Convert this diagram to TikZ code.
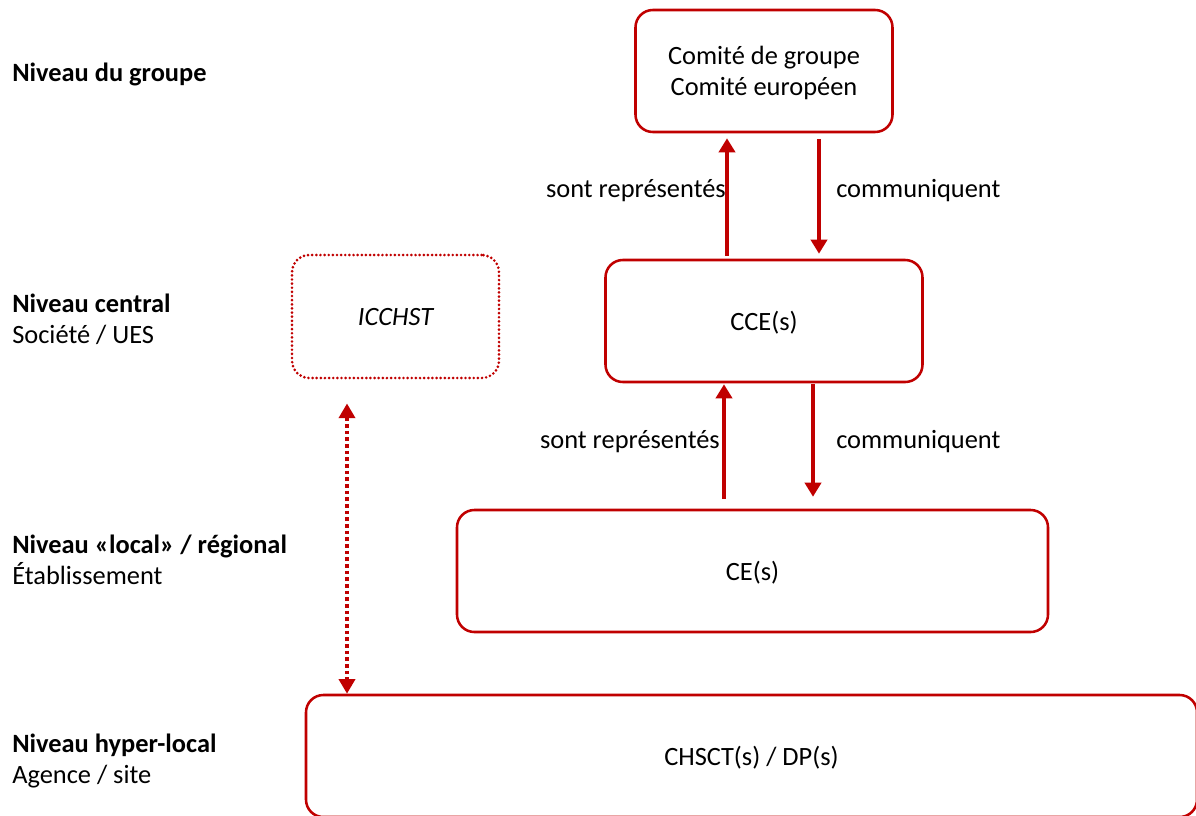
\documentclass[tikz,border=0pt]{standalone}
\usepackage{fontspec}
\setmainfont{Carlito}
\usetikzlibrary{arrows.meta,calc}

\definecolor{rouge}{RGB}{192,0,0}
\tikzset{
	box/.style={draw=rouge, line width=1.9pt, rounded corners=13pt, align=center, inner sep=0pt, text depth=0pt},
	dotbox/.style={box, line width=2.2pt, dash pattern=on 0pt off 3.1pt, line cap=round},
	fleche/.style={draw=rouge, line width=2.8pt, -{Triangle[length=10.5pt,width=12pt]}},
	dotfleche/.style={draw=rouge, line width=2.8pt, dash pattern=on 2.8pt off 2.2pt, {Triangle[length=11pt,width=12pt]}-{Triangle[length=11pt,width=12pt]}},
	lbl/.style={inner sep=0pt, align=left},
	every node/.style={font=\fontsize{19.8}{23.5}\selectfont}}

\begin{document}
\begin{tikzpicture}[x=0.75pt,y=0.75pt,yscale=-1,xscale=1]
	\useasboundingbox (0,0) rectangle (1196,815);
	\clip (0,0) rectangle (1196,815);

	% Boxes
	\node[box, minimum width=192.75pt, minimum height=91.5pt] (comite) at (764,71) {Comité de groupe\\Comité européen};
	\node[box, minimum width=237.75pt, minimum height=91.5pt] (cce) at (764,321) {CCE(s)};
	\node[box, minimum width=443.25pt, minimum height=91.5pt] (ce) at (752.5,571) {CE(s)};
	\node[dotbox, minimum width=155.25pt, minimum height=92.25pt] (icc) at (395.5,316.5) {\itshape ICCHST};
	\node[box, minimum width=668.25pt, minimum height=91.5pt] (chsct) at (751.5,756) {CHSCT(s) / DP(s)};

	% Left labels
	\node[lbl, anchor=west] (groupe) at (12,74) {\textbf{Niveau du groupe}};
	\node[lbl, anchor=west] (central) at (12,319) {\textbf{Niveau central}\\Société / UES};
	\node[lbl, anchor=west] (local) at (12,559.5) {\textbf{Niveau «local» / régional}\\Établissement};
	\node[lbl, anchor=west] (hyper) at (12,761) {\textbf{Niveau hyper-local}\\Agence / site};

	% Arrows
	\draw[fleche] ($(cce.north)+(-37,-3)$) -- ($(comite.south)+(-37,5)$);
	\draw[fleche] ($(comite.south)+(55,6)$) -- ($(cce.north)+(55,-5)$);
	\draw[fleche] ($(ce.north)+(-28.5,-10)$) -- ($(cce.south)+(-40,1)$);
	\draw[fleche] ($(cce.south)+(49,1)$) -- ($(ce.north)+(60.5,-12)$);
	\draw[dotfleche] ($(icc.south)+(-48.5,24)$) -- ($(chsct.north)+(-404.5,0)$);

	% Arrow labels
	\node[lbl, anchor=east] (rep1) at (726,191) {sont représentés};
	\node[lbl, anchor=west] (com1) at (836,191) {communiquent};
	\node[lbl, anchor=east] (rep2) at (720,442) {sont représentés};
	\node[lbl, anchor=west] (com2) at (836,442) {communiquent};
\end{tikzpicture}
\end{document}
